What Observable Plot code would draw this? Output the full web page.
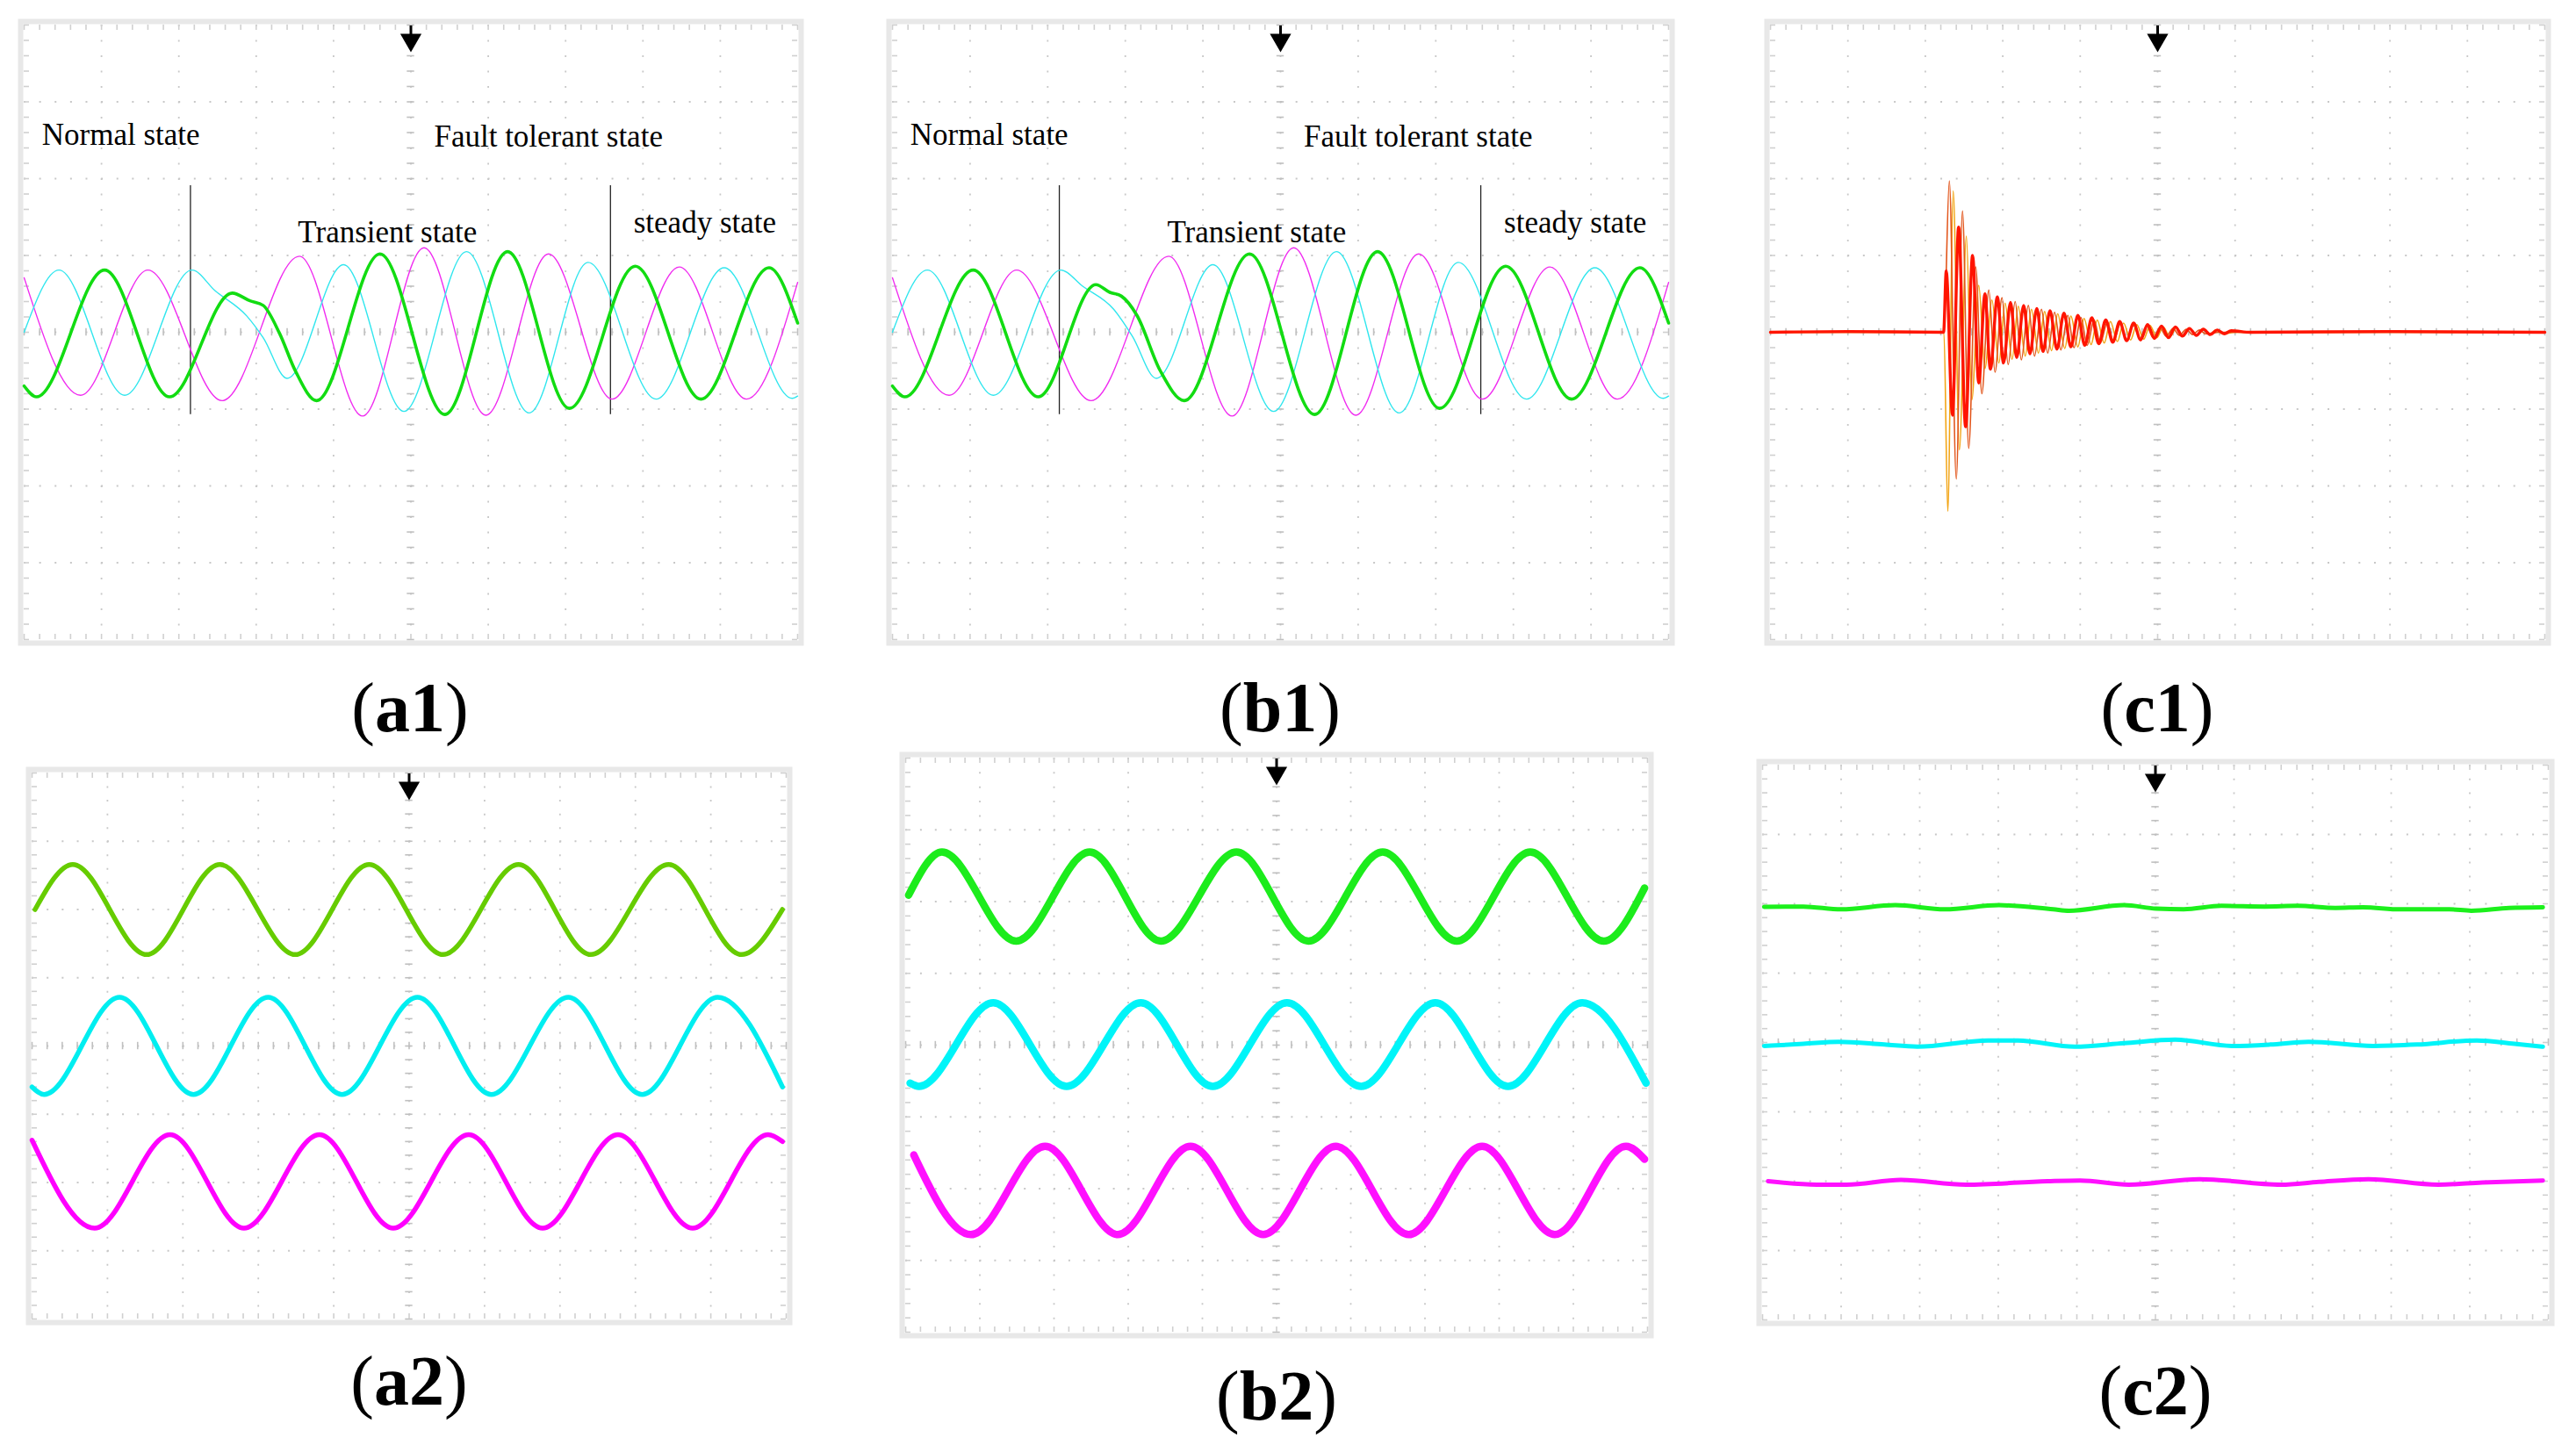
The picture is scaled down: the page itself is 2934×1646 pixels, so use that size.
<!DOCTYPE html>
<html><head><meta charset="utf-8">
<script src="https://cdn.jsdelivr.net/npm/d3@7"></script>
<script src="https://cdn.jsdelivr.net/npm/@observablehq/plot@0.6"></script>
<style>
html,body{margin:0;padding:0;background:#fff;}
#root{position:relative;width:2934px;height:1646px;overflow:hidden;background:#fff;}
.panel{position:absolute;}
#labels{position:absolute;left:0;top:0;}
</style></head><body>
<div id="root"></div>
<script>
// ---------- data (x in horizontal divisions 0..10, y in vertical divisions -4..4) ----------
// (a1) / (b1): three-phase currents, normal -> transient -> fault tolerant
const a1Green   = [[0,-0.70],[0.16,-0.84],[1.04,0.81],[1.88,-0.84],[2.69,0.51],[2.92,0.41],[3.09,0.35],[3.30,-0.01],[3.51,-0.51],[3.78,-0.89],[4.60,1.02],[5.44,-1.07],[6.25,1.05],[7.05,-0.99],[7.90,0.86],[8.75,-0.87],[9.63,0.84],[10,0.12]];
const a1Magenta = [[0,0.71],[0.73,-0.82],[1.60,0.81],[2.56,-0.89],[3.56,0.99],[4.375,-1.09],[5.17,1.10],[5.97,-1.08],[6.78,1.02],[7.60,-0.87],[8.47,0.85],[9.34,-0.87],[10,0.65]];
const a1Cyan    = [[0,0.0],[0.45,0.81],[1.30,-0.82],[2.17,0.81],[2.47,0.54],[2.88,0.21],[3.09,-0.07],[3.40,-0.60],[4.13,0.88],[4.91,-1.03],[5.72,1.05],[6.53,-1.05],[7.29,0.91],[8.17,-0.87],[9.05,0.84],[9.93,-0.86],[10,-0.83]];
const b1Green   = [[0,-0.70],[0.16,-0.84],[1.04,0.81],[1.88,-0.84],[2.62,0.62],[2.80,0.52],[2.95,0.47],[3.15,0.22],[3.45,-0.50],[3.76,-0.89],[4.60,1.02],[5.44,-1.07],[6.25,1.05],[7.05,-0.99],[7.90,0.86],[8.75,-0.87],[9.63,0.84],[10,0.12]];
const b1Magenta = a1Magenta;
const b1Cyan    = [[0,0.0],[0.45,0.81],[1.30,-0.82],[2.17,0.81],[2.45,0.60],[2.85,0.30],[3.09,-0.05],[3.40,-0.60],[4.13,0.88],[4.91,-1.03],[5.72,1.05],[6.53,-1.05],[7.29,0.91],[8.17,-0.87],[9.05,0.84],[9.93,-0.86],[10,-0.83]];
const stateLabels = [
  {text:"Normal state",         x:0.23, y:2.44},
  {text:"Fault tolerant state", x:5.30, y:2.42},
  {text:"Transient state",      x:3.54, y:1.17},
  {text:"steady state",         x:7.88, y:1.30}
];
const stateDividers = [2.15, 7.58];

// (c1): damped oscillation after the fault
const c1Red = [[0,0],[1.0,0.01],[2.236,0],[2.27,0.80],[2.35,-1.08],[2.43,1.37],[2.52,-1.23],[2.61,1.00],[2.69,-0.66],[2.77,0.50],[2.84,-0.48],[2.93,0.46],[3.01,-0.40],[3.10,0.39],[3.18,-0.33],[3.27,0.35],[3.35,-0.28],[3.44,0.31],[3.52,-0.25],[3.61,0.28],[3.70,-0.22],[3.79,0.25],[3.88,-0.19],[3.97,0.22],[4.06,-0.17],[4.15,0.19],[4.24,-0.15],[4.33,0.16],[4.42,-0.13],[4.51,0.14],[4.60,-0.11],[4.69,0.12],[4.78,-0.10],[4.87,0.10],[4.96,-0.08],[5.05,0.08],[5.14,-0.07],[5.23,0.07],[5.32,-0.05],[5.41,0.05],[5.50,-0.04],[5.59,0.04],[5.68,-0.03],[5.77,0.03],[5.86,-0.02],[5.95,0.02],[6.2,0],[8.0,0.01],[10,0]];
const c1Orange = [[0,0],[2.24,0],[2.31,1.97],[2.40,-1.91],[2.48,1.58],[2.56,-1.51],[2.65,0.85],[2.73,-0.80],[2.82,0.55],[2.90,-0.52],[2.99,0.45],[3.07,-0.42],[3.16,0.40],[3.24,-0.36],[3.33,0.35],[3.41,-0.31],[3.50,0.30],[3.58,-0.27],[3.67,0.26],[3.75,-0.23],[3.84,0.22],[3.92,-0.20],[4.01,0.19],[4.09,-0.17],[4.18,0.16],[4.26,-0.14],[4.35,0.13],[4.43,-0.12],[4.52,0.11],[4.60,-0.10],[4.69,0.09],[4.77,-0.08],[4.86,0.08],[4.94,-0.07],[5.03,0.06],[5.11,-0.05],[5.20,0.05],[5.28,-0.04],[5.37,0.04],[5.45,-0.03],[5.54,0.03],[5.62,-0.02],[5.80,0],[10,0]];
const c1Amber = [[0,0],[2.24,0],[2.29,-2.33],[2.36,1.84],[2.44,-1.53],[2.53,1.25],[2.60,-0.88],[2.69,0.61],[2.77,-0.47],[2.86,0.42],[2.95,-0.40],[3.03,0.38],[3.12,-0.35],[3.20,0.34],[3.29,-0.31],[3.37,0.30],[3.46,-0.27],[3.54,0.27],[3.63,-0.24],[3.71,0.24],[3.80,-0.21],[3.88,0.21],[3.97,-0.19],[4.05,0.18],[4.14,-0.16],[4.22,0.16],[4.31,-0.14],[4.39,0.14],[4.48,-0.12],[4.56,0.12],[4.65,-0.10],[4.73,0.10],[4.82,-0.09],[4.90,0.09],[4.99,-0.07],[5.07,0.07],[5.16,-0.06],[5.24,0.06],[5.33,-0.05],[5.41,0.05],[5.50,-0.04],[5.58,0.04],[5.67,-0.03],[5.75,0.03],[5.84,-0.02],[6.0,0],[10,0]];

// (a2)
const a2Green   = [[0.04,2.0],[0.54,2.66],[1.52,1.34],[2.49,2.66],[3.49,1.34],[4.47,2.66],[5.45,1.34],[6.45,2.66],[7.41,1.34],[8.44,2.66],[9.41,1.34],[9.95,2.0]];
const a2Cyan    = [[0,-0.6],[0.16,-0.71],[1.16,0.715],[2.14,-0.71],[3.13,0.715],[4.11,-0.71],[5.11,0.715],[6.09,-0.71],[7.11,0.715],[8.09,-0.71],[9.09,0.715],[9.95,-0.6]];
const a2Magenta = [[0,-1.38],[0.83,-2.67],[1.83,-1.30],[2.81,-2.67],[3.81,-1.30],[4.79,-2.67],[5.79,-1.30],[6.77,-2.67],[7.77,-1.30],[8.76,-2.67],[9.76,-1.30],[9.95,-1.40]];
// (b2)
const b2Green   = [[0.04,2.09],[0.49,2.69],[1.49,1.45],[2.48,2.69],[3.44,1.45],[4.46,2.69],[5.43,1.45],[6.43,2.69],[7.43,1.45],[8.42,2.69],[9.41,1.45],[9.96,2.19]];
const b2Cyan    = [[0.06,-0.53],[0.18,-0.575],[1.18,0.59],[2.17,-0.575],[3.17,0.59],[4.14,-0.575],[5.14,0.59],[6.14,-0.575],[7.14,0.59],[8.12,-0.575],[9.12,0.59],[9.98,-0.53]];
const b2Magenta = [[0.11,-1.53],[0.88,-2.64],[1.88,-1.41],[2.86,-2.64],[3.84,-1.41],[4.82,-2.64],[5.80,-1.41],[6.78,-2.64],[7.77,-1.41],[8.75,-2.64],[9.71,-1.41],[9.96,-1.59]];
// (c2)
const c2Green   = [[0.02,1.955],[0.52,1.96],[1.00,1.92],[1.69,1.98],[2.32,1.92],[3.01,1.98],[3.70,1.92],[3.90,1.90],[4.60,1.98],[5.01,1.93],[5.36,1.92],[5.84,1.97],[6.39,1.96],[6.81,1.97],[7.29,1.94],[7.64,1.95],[8.12,1.92],[8.74,1.92],[9.02,1.90],[9.50,1.94],[9.93,1.95]];
const c2Cyan    = [[0.02,-0.05],[0.52,-0.02],[0.97,0.01],[1.55,-0.03],[1.97,-0.06],[2.87,0.03],[3.25,0.03],[3.97,-0.06],[4.60,-0.01],[5.25,0.04],[5.98,-0.05],[6.46,-0.03],[6.95,0.01],[7.77,-0.05],[8.33,-0.03],[9.09,0.03],[9.57,-0.02],[9.93,-0.06]];
const c2Magenta = [[0.07,-2.00],[0.69,-2.05],[1.07,-2.05],[1.76,-1.98],[2.59,-2.05],[3.63,-2.00],[4.04,-1.99],[4.66,-2.05],[5.56,-1.97],[6.60,-2.05],[7.08,-2.01],[7.71,-1.97],[8.60,-2.05],[9.16,-2.02],[9.93,-1.99]];

const panelLabels = [
  {id:"a", n:"1", x:467,  y:833},
  {id:"b", n:"1", x:1458, y:833},
  {id:"c", n:"1", x:2457, y:833},
  {id:"a", n:"2", x:466,  y:1600},
  {id:"b", n:"2", x:1454, y:1617},
  {id:"c", n:"2", x:2455, y:1611}
];

// ---------- layout (screen grid boxes, px) ----------
const boxes = {
  a1:{left:27,  right:908,  top:28,  bottom:728},
  b1:{left:1016,right:1900, top:28,  bottom:728},
  c1:{left:2016,right:2898, top:28,  bottom:728},
  a2:{left:36,  right:895,  top:880, bottom:1502},
  b2:{left:1031,right:1876, top:863, bottom:1517},
  c2:{left:2007,right:2902, top:871, bottom:1503}
};

const root = document.getElementById("root");
const M = 12;

function trace(data, color, width){
  return Plot.line(data, {x:d=>d[0], y:d=>d[1], stroke:color, strokeWidth:width, curve:"monotone-x", strokeLinejoin:"round", strokeLinecap:"round"});
}

function scope(key, dataMarks){
  const b = boxes[key];
  const W = b.right-b.left, H = b.bottom-b.top;
  const pdx = W/10, pdy = H/8;
  const g = "#c8c8c8";
  const hx = d3.range(0,10.0001,0.2), hy = d3.range(-4,4.0001,0.2);
  const tx = 6/pdx, ty = 6/pdy;
  const dashV = `2,${(pdy/5-2).toFixed(3)}`, dashH = `2,${(pdx/5-2).toFixed(3)}`;
  const deco = [
    Plot.frame({stroke:"#e8e8e8", strokeWidth:6, inset:-4}),
    Plot.ruleX([1,2,3,4,5,6,7,8,9], {stroke:g, strokeWidth:1.8, strokeDasharray:dashV}),
    Plot.ruleY([-3,-2,-1,0,1,2,3], {stroke:g, strokeWidth:1.8, strokeDasharray:dashH}),
    Plot.ruleY(hy, {x1:5-tx*0.7, x2:5+tx*0.7, stroke:"#c0c0c0", strokeWidth:1.6}),
    Plot.ruleX(hx, {y1:-ty*0.7, y2:ty*0.7, stroke:"#c0c0c0", strokeWidth:1.6}),
    Plot.ruleX(hx, {y1:4, y2:4-ty, stroke:"#d0d0d0", strokeWidth:1.6}),
    Plot.ruleX(hx, {y1:-4, y2:-4+ty, stroke:"#d0d0d0", strokeWidth:1.6}),
    Plot.ruleY(hy, {x1:0, x2:tx, stroke:"#d0d0d0", strokeWidth:1.6}),
    Plot.ruleY(hy, {x1:10, x2:10-tx, stroke:"#d0d0d0", strokeWidth:1.6}),
    Plot.ruleX([5], {y1:4-1/pdy, y2:4-14/pdy, stroke:"#000", strokeWidth:3}),
    Plot.dot([5], {x:d=>d, y:4-17/pdy, symbol:"triangle", r:9, fill:"#000", rotate:180})
  ];
  const svg = Plot.plot({
    width:W+2*M, height:H+2*M, margin:M,
    x:{domain:[0,10], axis:null}, y:{domain:[-4,4], axis:null},
    style:{background:"transparent", overflow:"visible"},
    marks:[...deco, ...dataMarks]
  });
  const div = document.createElement("div");
  div.className = "panel";
  div.style.left = (b.left-M)+"px";
  div.style.top = (b.top-M)+"px";
  div.appendChild(svg);
  root.appendChild(div);
}

function stateMarks(){
  return [
    Plot.ruleX(stateDividers, {y1:-1.07, y2:1.91, stroke:"#222", strokeWidth:1.3}),
    Plot.text(stateLabels, {x:"x", y:"y", text:"text", textAnchor:"start", lineAnchor:"bottom", fontSize:35, fontFamily:"Liberation Serif, Times New Roman, serif", fill:"#000"})
  ];
}

const GREEN1="#12dc12", CYAN1="#30e6ee", MAG1="#f02cf0";
scope("a1", [...stateMarks(), trace(a1Magenta,MAG1,1.4), trace(a1Cyan,CYAN1,1.4), trace(a1Green,GREEN1,3.6)]);
scope("b1", [...stateMarks(), trace(b1Magenta,MAG1,1.4), trace(b1Cyan,CYAN1,1.4), trace(b1Green,GREEN1,3.6)]);
scope("c1", [trace(c1Amber,"#f2a516",1.6), trace(c1Orange,"#e2561c",1.6), trace(c1Red,"#ff1400",3.4)]);
scope("a2", [trace(a2Green,"#66cc00",5.5), trace(a2Cyan,"#00eef0",5.5), trace(a2Magenta,"#ff00ff",5.5)]);
scope("b2", [trace(b2Green,"#1cec1c",8.5), trace(b2Cyan,"#00f4f8",8.5), trace(b2Magenta,"#ff10ff",8.5)]);
scope("c2", [trace(c2Green,"#1cf01c",5), trace(c2Cyan,"#00f4f8",5), trace(c2Magenta,"#ff10ff",5)]);

// panel captions
const ns = "http://www.w3.org/2000/svg";
const lab = document.createElementNS(ns,"svg");
lab.setAttribute("id","labels");
lab.setAttribute("width",2934); lab.setAttribute("height",1646);
for (const p of panelLabels){
  const t = document.createElementNS(ns,"text");
  t.setAttribute("x",p.x); t.setAttribute("y",p.y);
  t.setAttribute("text-anchor","middle");
  t.setAttribute("font-family","Liberation Serif, Times New Roman, serif");
  t.setAttribute("font-size","80");
  t.appendChild(document.createTextNode("("));
  const s = document.createElementNS(ns,"tspan");
  s.setAttribute("font-weight","bold");
  s.textContent = p.id + p.n;
  t.appendChild(s);
  t.appendChild(document.createTextNode(")"));
  lab.appendChild(t);
}
root.appendChild(lab);
</script>
</body></html>
